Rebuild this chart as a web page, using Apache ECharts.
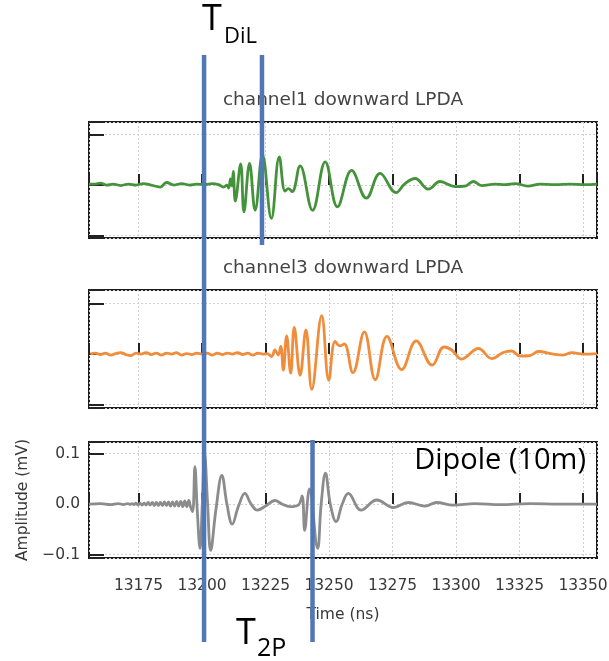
<!DOCTYPE html>
<html>
<head>
<meta charset="utf-8">
<title>LPDA / dipole pulse timing</title>
<script src="https://cdn.jsdelivr.net/npm/echarts@6.0.0/dist/echarts.min.js"></script>
<style>
  html, body { margin: 0; padding: 0; background: #fff; }
  #chart { width: 609px; height: 661px; }
</style>
</head>
<body>
<div id="chart"></div>
<script>
// time window shared by all three panels (ns)
const timeMin = 13155.5;
const timeMax = 13355.5;

// channel1 downward LPDA (arbitrary units, tick = 1)
const ch1Times = [
  13155.5, 13158, 13160, 13162.5, 13165, 13168, 13171, 13174, 13177, 13180,
  13183.5, 13186, 13189, 13192, 13195, 13198, 13201, 13204, 13206.5, 13208.5,
  13209.8, 13210.5, 13211.2, 13211.8, 13212.3, 13213.1, 13215.2, 13216.5, 13218.7, 13220.9,
  13223.8, 13227.3, 13230.4, 13232.7, 13234.0, 13235.5, 13238.6, 13243.5, 13248.5, 13253.3,
  13258.9, 13264.7, 13270.1, 13276.4, 13279.9, 13283.9, 13289.1, 13293.7, 13299.6, 13303.5,
  13306.8, 13310.1, 13315.3, 13319.3, 13323.2, 13328.3, 13333.1, 13339.0, 13344.9, 13350.8,
  13355.5
];
const ch1Values = [
  0.02, 0.02, 0.04, 0.0, 0.02, -0.01, 0.02, 0.0, 0.03, 0.0,
  -0.04, 0.05, 0.0, 0.03, 0.0, 0.02, 0.01, 0.03, 0.01, -0.04,
  0.0, -0.06, 0.12, -0.02, 0.27, -0.32, 0.42, -0.53, 0.43, -0.5,
  0.6, -0.66, 0.56, -0.12, -0.07, -0.13, 0.38, -0.5, 0.46, -0.43,
  0.29, -0.26, 0.23, -0.15, 0.03, 0.13, -0.08, 0.07, -0.03, -0.02,
  0.07, -0.01, 0.02, 0.01, 0.03, -0.02, 0.02, 0.01, 0.02, 0.01,
  0.02
];

// channel3 downward LPDA (arbitrary units, tick = 1)
const ch3Times = [
  13156, 13158, 13160, 13162, 13164, 13166, 13168, 13170, 13172, 13174,
  13176, 13178, 13180, 13182, 13184, 13186, 13188, 13190, 13192, 13194,
  13196, 13198, 13200, 13202, 13204, 13206, 13208, 13210, 13212, 13214,
  13216, 13218, 13220, 13222, 13224, 13225.6, 13227.4, 13228.7, 13230.0, 13231.0,
  13232.0, 13233.3, 13234.9, 13236.3, 13238.6, 13240.9, 13243.2, 13247.1, 13249.9, 13252.4,
  13254.3, 13256.0, 13259.4, 13263.9, 13268.2, 13272.8, 13278.6, 13284.3, 13290.6, 13295.3,
  13298.3, 13302.2, 13308.8, 13314.1, 13318.6, 13321.9, 13325.2, 13329.1, 13332.4, 13338.3,
  13342.2, 13345.6, 13350.1, 13355.5
];
const ch3Values = [
  0.0, 0.02, -0.01, 0.02, -0.02, 0.01, 0.03, -0.01, -0.03, 0.02,
  0.0, 0.03, -0.01, 0.02, -0.02, 0.02, 0.0, 0.03, -0.02, 0.01,
  -0.01, 0.02, 0.0, 0.02, -0.02, 0.02, -0.01, 0.02, 0.0, 0.03,
  -0.01, 0.02, -0.02, 0.02, 0.0, 0.01, -0.05, 0.08, -0.02, 0.15,
  -0.32, 0.36, -0.38, 0.53, -0.42, 0.48, -0.7, 0.76, -0.52, 0.25,
  0.16, 0.2, -0.37, 0.44, -0.51, 0.35, -0.31, 0.26, -0.22, 0.14,
  0.08, -0.1, 0.11, -0.09, 0.03, 0.06, -0.04, -0.03, 0.05, 0.0,
  -0.02, 0.03, 0.0, 0.01
];

// Dipole (10m), amplitude in mV
const dipoleTimes = [
  13155.5, 13160, 13164, 13167, 13169, 13170.8, 13171.6, 13172.4, 13173.2, 13174,
  13174.8, 13175.6, 13176.4, 13177.2, 13178, 13178.8, 13179.6, 13180.4, 13181.2, 13182,
  13182.8, 13183.6, 13184.4, 13185.2, 13186, 13186.8, 13187.6, 13188.4, 13189.2, 13190,
  13190.8, 13191.6, 13192.4, 13193.2, 13194, 13194.8, 13195.5, 13196.3, 13197.2, 13198.1,
  13199.2, 13200.1, 13201.0, 13202.2, 13203.4, 13205.5, 13207.8, 13209.8, 13211.9, 13214.3,
  13216.9, 13219.3, 13221.8, 13225, 13228.7, 13231.5, 13234.6, 13237.9, 13239.4, 13240.4,
  13242.3, 13245.5, 13246.9, 13248.6, 13250.5, 13252.8, 13255.2, 13257.6, 13262.6, 13268.8,
  13275.3, 13281.2, 13287.8, 13292.4, 13298.9, 13307.5, 13317.3, 13329.1, 13341, 13355.5
];
const dipoleValues = [
  0.0, 0.001, -0.001, 0.001, -0.001, 0.001, -0.001, 0.001, -0.001, 0.002,
  -0.002, 0.002, -0.002, 0.002, -0.002, 0.003, -0.002, 0.003, -0.003, 0.003,
  -0.003, 0.003, -0.003, 0.004, -0.003, 0.004, -0.004, 0.004, -0.004, 0.005,
  -0.004, 0.005, -0.005, 0.006, -0.005, 0.007, -0.006, -0.015, 0.074, -0.01,
  -0.088, 0.0, 0.1, 0.0, -0.092, -0.01, 0.057, 0.0, -0.04, -0.005,
  0.021, 0.0, -0.012, -0.004, 0.007, 0.0, -0.005, -0.002, 0.016, -0.052,
  0.03, -0.088, 0.0, 0.061, 0.0, -0.035, 0.0, 0.021, -0.012, 0.008,
  -0.007, 0.003, -0.004, 0.003, -0.002, 0.001, -0.001, 0.001, 0.0, 0.0
];

// annotation times: T_DiL pair (channel1 vs dipole) and T_2P (second dipole pulse)
const markerTimes = [13200.8, 13223.6, 13243.5];
const markerLabels = ["T", "DiL", "T", "2P"];

const chart = echarts.init(document.getElementById("chart"));

const tickFont = "DejaVu Sans";
const noteFont = "Open Sans";
const textColor = "#383838";
const lineBlue = "#5077b6";

const pairs = (ts, vs) => ts.map((t, i) => [t, vs[i]]);

const gridLine = { show: true, lineStyle: { color: "#cfcfcf", width: 1, type: [2, 2] } };

const makeGrid = (top, height) => ({
  left: 89, top, width: 508, height,
  show: true, backgroundColor: "#fff", borderColor: "#1c1c1c", borderWidth: 2,
  outerBoundsMode: "none",
});

const makeXAxis = (gridIndex, showLabel) => ({
  type: "value",
  gridIndex,
  min: timeMin,
  max: timeMax,
  minInterval: 25,
  maxInterval: 25,
  axisLine: { show: false },
  axisTick: { show: true, inside: true, length: 11, lineStyle: { color: "#222", width: 2 } },
  axisLabel: {
    show: showLabel,
    margin: 20,
    fontFamily: tickFont,
    fontSize: 15.5,
    color: textColor,
    formatter: (v) => (Math.abs(v / 25 - Math.round(v / 25)) < 1e-6 ? String(Math.round(v)) : ""),
  },
  splitLine: gridLine,
  name: showLabel ? "Time (ns)" : "",
  nameLocation: "middle",
  nameGap: 49,
  nameTextStyle: { fontFamily: tickFont, fontSize: 15.5, color: textColor },
});

const makeYAxis = (gridIndex, min, max, step, showLabel) => ({
  type: "value",
  gridIndex,
  min,
  max,
  minInterval: step,
  maxInterval: step,
  axisLine: { show: false },
  axisTick: { show: true, inside: true, length: 15, lineStyle: { color: "#222", width: 2 } },
  axisLabel: {
    show: showLabel,
    margin: 9,
    fontFamily: tickFont,
    fontSize: 15.5,
    color: textColor,
    formatter: (v) => {
      const k = v / step;
      if (Math.abs(k - Math.round(k)) > 1e-6) return "";
      return (v < 0 ? "\u2212" : "") + Math.abs(v).toFixed(1);
    },
  },
  splitLine: gridLine,
  name: showLabel ? "Amplitude (mV)" : "",
  nameLocation: "middle",
  nameGap: 58,
  nameTextStyle: { fontFamily: tickFont, fontSize: 15.5, color: textColor },
});

const makeSeries = (name, idx, data, color) => ({
  name,
  type: "line",
  xAxisIndex: idx,
  yAxisIndex: idx,
  data,
  showSymbol: false,
  smooth: 0.4,
  lineStyle: { color, width: 2.8 },
  itemStyle: { color },
  animation: false,
});

chart.setOption({
  animation: false,
  grid: [makeGrid(122, 116), makeGrid(290, 118), makeGrid(442, 116)],
  xAxis: [makeXAxis(0, false), makeXAxis(1, false), makeXAxis(2, true)],
  yAxis: [
    makeYAxis(0, -1.05, 1.25, 1, false),
    makeYAxis(1, -1.07, 1.27, 1, false),
    makeYAxis(2, -0.107, 0.123, 0.1, true),
  ],
  series: [
    makeSeries("channel1 downward LPDA", 0, pairs(ch1Times, ch1Values), "#44933b"),
    makeSeries("channel3 downward LPDA", 1, pairs(ch3Times, ch3Values), "#f08c3a"),
    makeSeries("Dipole (10m)", 2, pairs(dipoleTimes, dipoleValues), "#8c8c8c"),
  ],
});

// vertical timing markers drawn over all panels
const mx = [
  chart.convertToPixel({ xAxisIndex: 0 }, markerTimes[0]),
  chart.convertToPixel({ xAxisIndex: 0 }, markerTimes[1]),
  chart.convertToPixel({ xAxisIndex: 2 }, markerTimes[2]),
];

const vline = (x, y1, y2) => ({
  type: "line",
  shape: { x1: x, y1, x2: x, y2 },
  style: { stroke: lineBlue, lineWidth: 4.5 },
  z: 100,
});

const label = (text, x, y, size, align) => ({
  type: "text",
  x, y,
  style: {
    text, fill: "#000", fontFamily: noteFont, fontSize: size,
    align, verticalAlign: "middle", textAlign: align, textVerticalAlign: "middle",
  },
  z: 101,
});

const title = (text, y) => ({
  type: "text",
  x: 343, y,
  style: {
    text, fill: "#444", fontFamily: tickFont, fontSize: 18.5,
    align: "center", verticalAlign: "middle", textAlign: "center", textVerticalAlign: "middle",
  },
  z: 50,
});

chart.setOption({
  graphic: [
    title("channel1 downward LPDA", 100),
    title("channel3 downward LPDA", 268),
    label("Dipole (10m)", 586, 461, 29, "right"),
    vline(mx[0], 55, 642),
    vline(mx[1], 55, 245),
    vline(mx[2], 440, 642),
    label(markerLabels[0], mx[0] - 2, 20, 36, "left"),
    label(markerLabels[1], mx[0] + 20, 37, 22, "left"),
    label(markerLabels[2], mx[0] + 32, 634, 36, "left"),
    label(markerLabels[3], mx[0] + 53, 649, 25, "left"),
  ],
});

window.addEventListener("resize", () => chart.resize());
</script>
</body>
</html>
